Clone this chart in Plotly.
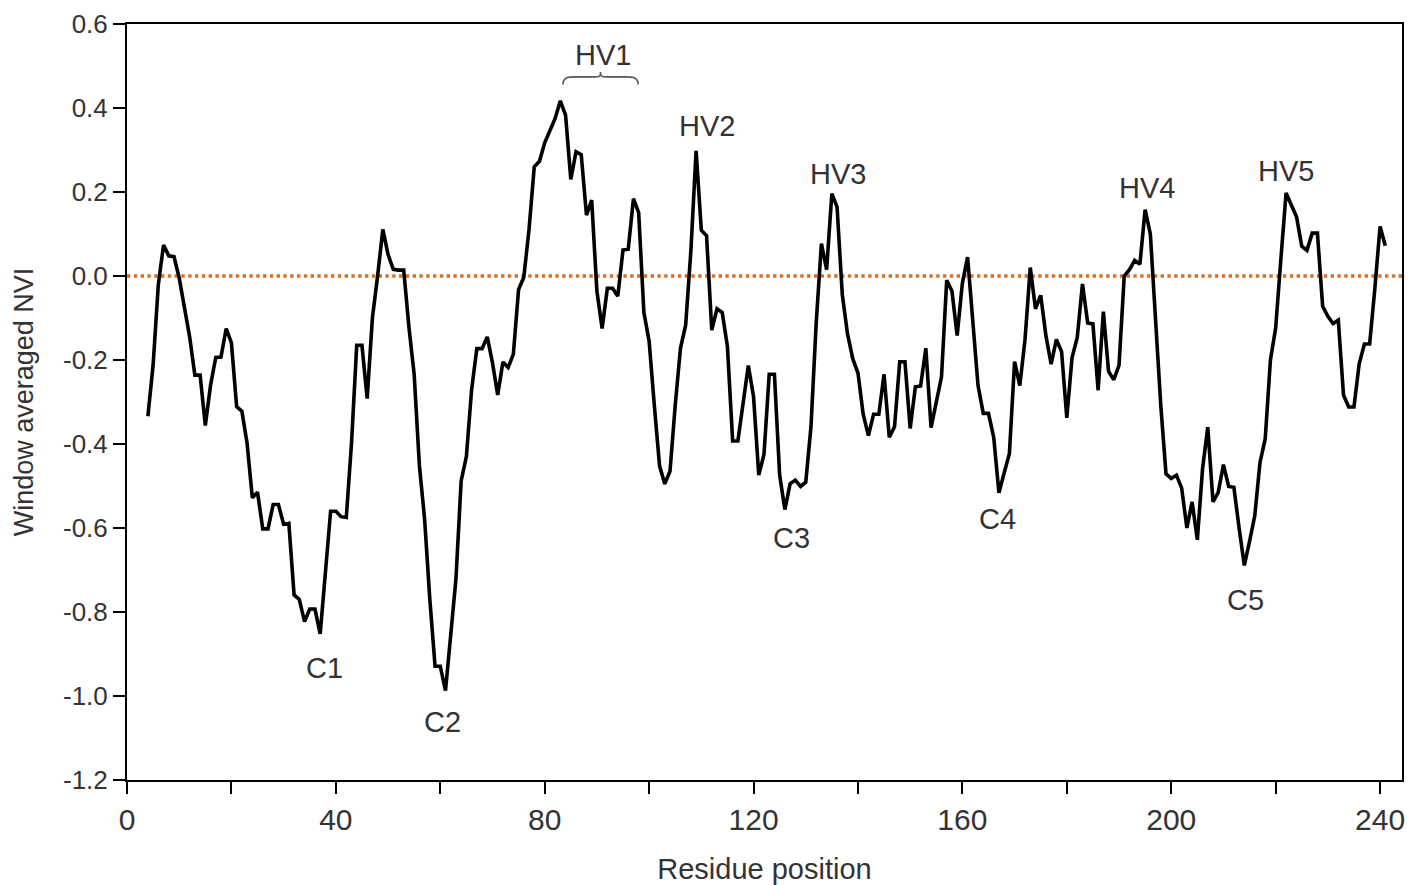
import plotly.graph_objects as go

# ---- data ----
residue = list(range(4, 242))
nvi = [
    -0.334, -0.212, -0.020, 0.074, 0.048, 0.046, -0.005, -0.070, -0.145, -0.236,   # 4-13
    -0.236, -0.356, -0.260, -0.194, -0.193, -0.125, -0.159, -0.311, -0.322, -0.398,  # 14-23
    -0.528, -0.515, -0.602, -0.602, -0.544, -0.544, -0.591, -0.589, -0.759, -0.770,  # 24-33
    -0.823, -0.793, -0.793, -0.852, -0.700, -0.560, -0.560, -0.573, -0.575, -0.398,  # 34-43
    -0.165, -0.165, -0.292, -0.100, 0.000, 0.111, 0.051, 0.016, 0.014, 0.014,        # 44-53
    -0.122, -0.234, -0.451, -0.579, -0.770, -0.929, -0.929, -0.987, -0.855, -0.722,  # 54-63
    -0.488, -0.430, -0.271, -0.173, -0.173, -0.145, -0.207, -0.283, -0.205, -0.218,  # 64-73
    -0.186, -0.032, -0.003, 0.111, 0.260, 0.273, 0.317, 0.345, 0.375, 0.417,         # 74-83
    0.383, 0.230, 0.296, 0.289, 0.145, 0.181, -0.036, -0.125, -0.029, -0.029,        # 84-93
    -0.048, 0.062, 0.064, 0.184, 0.151, -0.087, -0.155, -0.308, -0.452, -0.495,      # 94-103
    -0.465, -0.308, -0.172, -0.117, 0.060, 0.298, 0.109, 0.096, -0.129, -0.078,      # 104-113
    -0.087, -0.168, -0.393, -0.393, -0.304, -0.213, -0.287, -0.474, -0.425, -0.234,  # 114-123
    -0.234, -0.474, -0.556, -0.495, -0.486, -0.501, -0.491, -0.359, -0.112, 0.077,   # 124-133
    0.015, 0.196, 0.164, -0.044, -0.138, -0.197, -0.231, -0.329, -0.380, -0.329,     # 134-143
    -0.329, -0.234, -0.384, -0.359, -0.204, -0.204, -0.363, -0.264, -0.262, -0.172,  # 144-153
    -0.361, -0.295, -0.240, -0.010, -0.036, -0.142, -0.017, 0.045, -0.112, -0.261,   # 154-163
    -0.327, -0.327, -0.384, -0.516, -0.469, -0.423, -0.204, -0.261, -0.151, 0.020,   # 164-173
    -0.078, -0.046, -0.142, -0.210, -0.151, -0.180, -0.338, -0.195, -0.146, -0.019,  # 174-183
    -0.112, -0.114, -0.272, -0.085, -0.227, -0.247, -0.213, 0.000, 0.015, 0.037,     # 184-193
    0.028, 0.158, 0.100, -0.100, -0.308, -0.471, -0.482, -0.474, -0.505, -0.600,     # 194-203
    -0.538, -0.628, -0.459, -0.360, -0.538, -0.515, -0.449, -0.501, -0.503, -0.600,  # 204-213
    -0.689, -0.632, -0.571, -0.444, -0.388, -0.200, -0.124, 0.040, 0.198, 0.169,     # 214-223
    0.141, 0.071, 0.061, 0.102, 0.102, -0.072, -0.096, -0.113, -0.105, -0.284,       # 224-233
    -0.312, -0.312, -0.209, -0.162, -0.162, -0.030, 0.118, 0.072,                    # 234-241
]

x_tick_vals = list(range(0, 241, 20))
x_tick_text = ["0", "", "40", "", "80", "", "120", "", "160", "", "200", "", "240"]
y_tick_vals = [0.6, 0.4, 0.2, 0.0, -0.2, -0.4, -0.6, -0.8, -1.0, -1.2]
y_tick_text = ["0.6", "0.4", "0.2", "0.0", "-0.2", "-0.4", "-0.6", "-0.8", "-1.0", "-1.2"]

region_labels = ["HV1", "HV2", "HV3", "HV4", "HV5", "C1", "C2", "C3", "C4", "C5"]
region_x = [91.1, 111.1, 136.2, 195.4, 222.0, 37.9, 60.5, 127.2, 166.8, 214.3]
region_y = [0.526, 0.357, 0.243, 0.210, 0.250, -0.933, -1.062, -0.624, -0.579, -0.771]

brace_x = [83.5, 90.7, 97.9]   # left end, tip, right end of the HV1 brace
brace_y = [0.456, 0.474, 0.486]  # end level, flat level, tip level

TEXT = "#333333"
FONT = "Liberation Sans, Arial, sans-serif"

fig = go.Figure()

fig.add_trace(go.Scatter(
    x=residue, y=nvi, mode="lines",
    line=dict(color="black", width=3.6),
    hoverinfo="x+y", showlegend=False,
))

# zero reference line
fig.add_hline(y=0, line=dict(color="#D4742C", width=3.4, dash="dot"), layer="below")

for t, xx, yy in zip(region_labels, region_x, region_y):
    fig.add_annotation(x=xx, y=yy, text=t, showarrow=False,
                       font=dict(family=FONT, size=29, color=TEXT),
                       xanchor="center", yanchor="middle")

# curly brace over HV1
xl, xm, xr = brace_x
ye, yf, yt = brace_y
q = (xr - xl) / 12.0
path = (f"M {xl},{ye} C {xl},{yf} {xl+q},{yf} {xl+2*q},{yf} "
        f"L {xm-q},{yf} C {xm-0.2*q},{yf} {xm},{yf} {xm},{yt} "
        f"C {xm},{yf} {xm+0.2*q},{yf} {xm+q},{yf} "
        f"L {xr-2*q},{yf} C {xr-q},{yf} {xr},{yf} {xr},{ye}")
fig.add_shape(type="path", path=path, xref="x", yref="y",
              line=dict(color="#555555", width=1.6))

fig.update_layout(
    width=1426, height=885,
    margin=dict(l=127, r=24, t=24, b=105, autoexpand=False),
    paper_bgcolor="white", plot_bgcolor="white",
    font=dict(family=FONT, color=TEXT),
)

fig.update_xaxes(
    range=[0, 244.2], automargin=False,
    tickmode="array", tickvals=x_tick_vals, ticktext=x_tick_text,
    ticks="outside", ticklen=12, tickwidth=2, tickcolor="black",
    ticklabelstandoff=0,
    tickfont=dict(family=FONT, size=30, color=TEXT),
    showline=True, linecolor="black", linewidth=2, mirror=True,
    showgrid=False, zeroline=False,
    title=dict(text="Residue position", font=dict(family=FONT, size=29, color=TEXT), standoff=26),
)
fig.update_yaxes(
    range=[-1.2, 0.6], automargin=False,
    tickmode="array", tickvals=y_tick_vals, ticktext=y_tick_text,
    ticks="outside", ticklen=12, tickwidth=2, tickcolor="black",
    tickfont=dict(family=FONT, size=26, color=TEXT),
    showline=True, linecolor="black", linewidth=2, mirror=True,
    showgrid=False, zeroline=False,
    title=dict(text="Window averaged NVI", font=dict(family=FONT, size=27, color=TEXT), standoff=22),
)

fig.write_html("out.html")
